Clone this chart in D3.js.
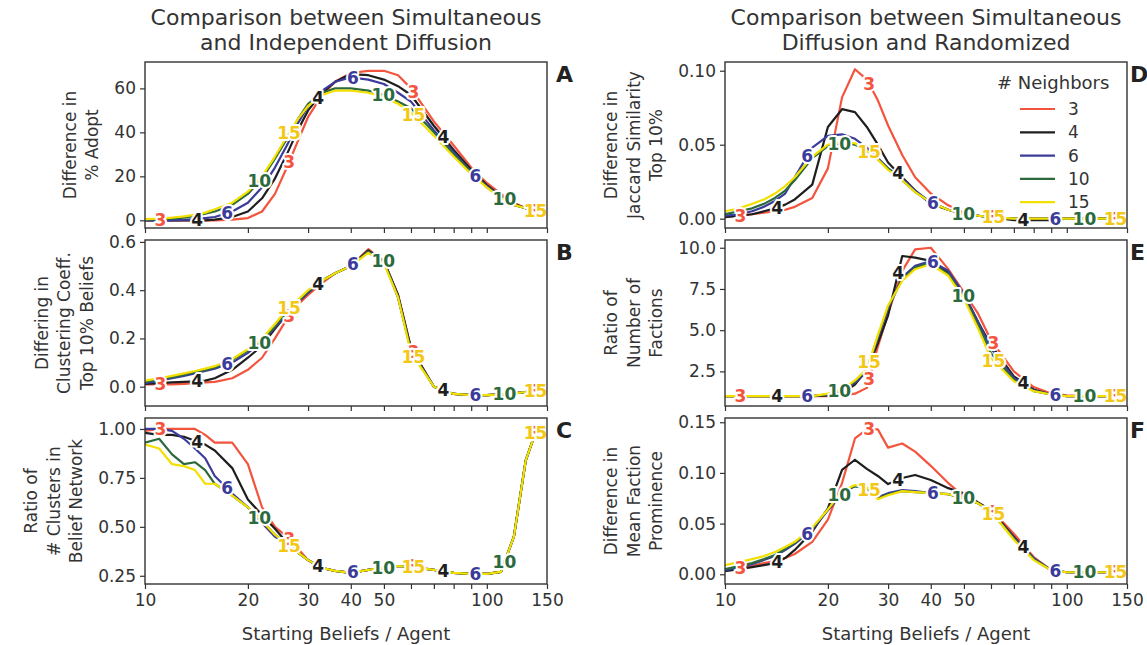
<!DOCTYPE html>
<html>
<head>
<meta charset="utf-8">
<script src="https://cdn.jsdelivr.net/npm/d3@7"></script>
<style>
  body { margin: 0; background: #fff; }
  svg { font-family: "DejaVu Sans", sans-serif; }
  .axis line { stroke: #333; stroke-width: 1.2; }
  .axis text { fill: #333; font-size: 17px; font-family: "DejaVu Sans", sans-serif; }
  .series { fill: none; stroke-width: 2.2; stroke-linejoin: round; }
  .tag { font-weight: bold; font-size: 17px; stroke: #fff; stroke-width: 4; paint-order: stroke; stroke-linejoin: round; }
</style>
</head>
<body>
<div id="chart"></div>
<script>
const beliefs = [10, 11, 12, 13, 14, 15, 16, 18, 20, 22, 24, 26, 28, 30, 33, 36, 40, 45, 50, 55, 60, 70, 80, 90, 100, 110, 120, 130, 140, 150]
const neighbors = [3, 4, 6, 10, 15]
const xTicks = [10, 20, 30, 40, 50, 60, 70, 80, 90, 100, 150]
const xTickLabels = [10, 20, 30, 40, 50, 100, 150]
// where the inline "# neighbors" tags sit, per series
const tagSpots = [[11.1, 26.4, 61, 138.8], [14.2, 32.1, 74.6], [17.4, 40.6, 92.6], [21.6, 49.8, 112.6], [26.4, 61, 138.8]]

// A
const adoptDiff = [
  [0, 0, 0, 0, 0, 0, 0, 0.3, 1, 4, 12, 24, 36, 47, 57, 63, 67, 68, 68, 66, 60, 45, 34, 24, 17, 12, 8, 5.5, 4, 3],
  [0, 0, 0, 0, 0, 0, 0.3, 1.5, 4, 10, 19, 30, 41, 50, 58, 63, 66.5, 66, 64, 61, 57, 43, 32, 23, 16, 11, 7.5, 5.5, 4, 3],
  [0, 0, 0, 0.2, 0.5, 1, 1.5, 4, 8, 15, 24, 34, 44, 52, 59, 63, 65, 64, 62, 58, 54, 41, 31, 22, 15.5, 10.5, 7, 5.5, 4, 3],
  [0.3, 0.5, 0.8, 1.2, 2, 3, 4, 7, 12, 19, 28, 37, 46, 53, 58, 60, 60, 59, 57, 54, 51, 40, 30, 22, 15, 10.5, 7, 5.5, 4, 3],
  [0.5, 0.8, 1.2, 1.8, 2.5, 3.5, 5, 8, 13, 20, 29, 38, 46, 52, 57, 59, 59, 58, 56, 53, 49, 38.5, 29, 21, 15, 10, 7, 5.5, 4, 3]
]
// B
const clusterCoeff = [
  [0.01, 0.01, 0.01, 0.012, 0.015, 0.018, 0.02, 0.035, 0.07, 0.12, 0.2, 0.28, 0.34, 0.38, 0.43, 0.47, 0.5, 0.57, 0.52, 0.38, 0.16, 0, -0.03, -0.035, -0.035, -0.032, -0.028, -0.022, -0.015, -0.01],
  [0.012, 0.015, 0.018, 0.02, 0.022, 0.025, 0.035, 0.07, 0.12, 0.17, 0.24, 0.3, 0.35, 0.39, 0.44, 0.47, 0.5, 0.565, 0.52, 0.38, 0.16, 0, -0.03, -0.035, -0.035, -0.032, -0.028, -0.022, -0.015, -0.01],
  [0.015, 0.025, 0.035, 0.045, 0.055, 0.065, 0.075, 0.1, 0.14, 0.185, 0.245, 0.3, 0.35, 0.39, 0.44, 0.47, 0.5, 0.56, 0.52, 0.37, 0.15, 0, -0.03, -0.035, -0.035, -0.032, -0.028, -0.022, -0.015, -0.01],
  [0.02, 0.03, 0.04, 0.05, 0.06, 0.07, 0.08, 0.11, 0.15, 0.19, 0.25, 0.31, 0.355, 0.395, 0.44, 0.47, 0.5, 0.56, 0.52, 0.37, 0.15, 0, -0.03, -0.035, -0.035, -0.032, -0.028, -0.022, -0.015, -0.01],
  [0.025, 0.035, 0.045, 0.055, 0.065, 0.075, 0.085, 0.115, 0.155, 0.2, 0.26, 0.32, 0.36, 0.4, 0.44, 0.47, 0.5, 0.555, 0.51, 0.37, 0.14, 0, -0.03, -0.035, -0.035, -0.032, -0.028, -0.022, -0.015, -0.01]
]
// C
const clusterRatio = [
  [0.99, 1.0, 1.0, 1.0, 1.0, 0.97, 0.93, 0.93, 0.82, 0.6, 0.5, 0.45, 0.39, 0.33, 0.29, 0.275, 0.265, 0.28, 0.29, 0.3, 0.3, 0.28, 0.265, 0.26, 0.26, 0.27, 0.45, 0.84, 1.0, 1.0],
  [0.98, 0.97, 0.97, 0.96, 0.94, 0.92, 0.89, 0.8, 0.64, 0.56, 0.49, 0.42, 0.37, 0.33, 0.29, 0.275, 0.265, 0.28, 0.29, 0.3, 0.295, 0.28, 0.265, 0.26, 0.26, 0.27, 0.45, 0.84, 1.0, 1.0],
  [1.0, 1.0, 0.99, 0.95, 0.9, 0.85, 0.76, 0.67, 0.6, 0.52, 0.45, 0.41, 0.37, 0.33, 0.29, 0.275, 0.265, 0.28, 0.29, 0.3, 0.295, 0.28, 0.265, 0.26, 0.26, 0.27, 0.45, 0.84, 1.0, 1.0],
  [0.93, 0.95, 0.87, 0.82, 0.83, 0.79, 0.72, 0.66, 0.6, 0.53, 0.46, 0.41, 0.37, 0.33, 0.29, 0.275, 0.265, 0.28, 0.29, 0.3, 0.295, 0.28, 0.265, 0.26, 0.26, 0.27, 0.45, 0.84, 1.0, 1.0],
  [0.92, 0.9, 0.82, 0.81, 0.79, 0.72, 0.72, 0.66, 0.6, 0.53, 0.46, 0.41, 0.37, 0.33, 0.29, 0.275, 0.265, 0.28, 0.29, 0.3, 0.295, 0.28, 0.265, 0.26, 0.26, 0.27, 0.45, 0.84, 1.0, 1.0]
]
// D
const jaccard = [
  [0.001, 0.002, 0.003, 0.004, 0.005, 0.006, 0.008, 0.014, 0.034, 0.082, 0.101, 0.094, 0.08, 0.063, 0.043, 0.028, 0.017, 0.009, 0.004, 0.002, 0.001, 0, 0, 0, 0, 0, 0, 0, 0, 0],
  [0.001, 0.002, 0.003, 0.005, 0.007, 0.0095, 0.013, 0.023, 0.062, 0.074, 0.072, 0.062, 0.05, 0.038, 0.028, 0.019, 0.01, 0.006, 0.003, 0.002, 0.001, -0.001, -0.001, -0.001, 0, 0, 0, 0, 0, 0],
  [0.002, 0.003, 0.005, 0.008, 0.012, 0.017, 0.028, 0.048, 0.056, 0.057, 0.054, 0.048, 0.041, 0.034, 0.027, 0.019, 0.011, 0.006, 0.003, 0.002, 0.001, 0, 0, 0, 0, 0, 0, 0, 0, 0],
  [0.003, 0.005, 0.007, 0.01, 0.014, 0.019, 0.026, 0.041, 0.049, 0.051, 0.05, 0.046, 0.04, 0.034, 0.026, 0.018, 0.011, 0.006, 0.003, 0.002, 0.001, 0, 0, 0, 0, 0, 0, 0, 0, 0],
  [0.005, 0.007, 0.01, 0.013, 0.017, 0.022, 0.028, 0.042, 0.05, 0.052, 0.051, 0.046, 0.04, 0.033, 0.026, 0.018, 0.011, 0.006, 0.003, 0.002, 0.001, 0, 0, 0, 0, 0, 0, 0, 0, 0]
]
// E
const factions = [
  [1, 1, 1, 1, 1, 1, 1, 1, 1, 1.05, 1.15, 1.5, 4.0, 6.0, 8.6, 9.9, 10.0, 8.7, 7.3, 6.0, 4.4, 2.5, 1.55, 1.15, 1.05, 1, 1, 1, 1, 1],
  [1, 1, 1, 1, 1, 1, 1, 1, 1.05, 1.15, 1.7, 2.6, 4.2, 5.9, 9.5, 9.4, 9.2, 8.5, 7.2, 5.5, 4.1, 2.2, 1.4, 1.1, 1.0, 1, 1, 1, 1, 1],
  [1, 1, 1, 1, 1, 1, 1, 1, 1.1, 1.3, 1.8, 2.5, 4.5, 6.3, 8.2, 8.9, 9.2, 8.6, 7.2, 5.5, 3.9, 2.1, 1.35, 1.1, 1.0, 1, 1, 1, 1, 1],
  [1, 1, 1, 1, 1, 1, 1, 1, 1.1, 1.35, 1.9, 2.6, 4.6, 6.4, 8.1, 8.8, 9.1, 8.4, 7.0, 5.3, 3.6, 2.0, 1.3, 1.1, 1.0, 1, 1, 1, 1, 1],
  [1, 1, 1, 1, 1, 1, 1, 1, 1.15, 1.4, 1.95, 2.65, 4.7, 6.5, 8.0, 8.7, 9.0, 8.3, 6.9, 5.1, 3.3, 1.9, 1.3, 1.1, 1.0, 1, 1, 1, 1, 1]
]
// F
const prominence = [
  [0.004, 0.006, 0.008, 0.011, 0.013, 0.016, 0.02, 0.032, 0.054, 0.09, 0.134, 0.143, 0.143, 0.125, 0.129, 0.121, 0.107, 0.09, 0.077, 0.07, 0.064, 0.04, 0.017, 0.004, 0.002, 0.002, 0.002, 0.002, 0.002, 0.002],
  [0.003, 0.005, 0.007, 0.009, 0.011, 0.016, 0.024, 0.042, 0.065, 0.103, 0.113, 0.104, 0.097, 0.089, 0.095, 0.098, 0.093, 0.085, 0.08, 0.071, 0.063, 0.037, 0.015, 0.004, 0.002, 0.002, 0.002, 0.002, 0.002, 0.002],
  [0.004, 0.007, 0.01, 0.014, 0.018, 0.024, 0.03, 0.044, 0.063, 0.08, 0.087, 0.085, 0.076, 0.08, 0.083, 0.082, 0.08, 0.079, 0.075, 0.07, 0.062, 0.036, 0.016, 0.004, 0.002, 0.002, 0.002, 0.002, 0.002, 0.002],
  [0.005, 0.008, 0.011, 0.015, 0.019, 0.025, 0.031, 0.045, 0.064, 0.081, 0.087, 0.085, 0.075, 0.079, 0.082, 0.081, 0.08, 0.079, 0.075, 0.07, 0.062, 0.035, 0.015, 0.004, 0.002, 0.002, 0.002, 0.002, 0.002, 0.002],
  [0.009, 0.012, 0.015, 0.018, 0.022, 0.027, 0.032, 0.046, 0.064, 0.082, 0.088, 0.086, 0.074, 0.078, 0.082, 0.081, 0.08, 0.079, 0.075, 0.07, 0.062, 0.034, 0.014, 0.004, 0.002, 0.002, 0.002, 0.002, 0.002, 0.002]
]

const adoptTicks = [0, 20, 40, 60]
const coeffTicks = [0, 0.2, 0.4, 0.6]
const ratioTicks = [0.25, 0.5, 0.75, 1.0]
const jaccardTicks = [0, 0.05, 0.1]
const factionTicks = [2.5, 5, 7.5, 10]
const prominenceTicks = [0, 0.05, 0.1, 0.15]

const colors = ['#f4533d', '#1e1e1e', '#3b3b9c', '#2c6a3d', '#f3e000']
const tagColors = ['#f4533d', '#1e1e1e', '#3b3b9c', '#2c6a3d', '#f2c814']

let width = 1147, height = 645
let cols = [[145, 547], [725, 1127]]
let rows = [[62, 228], [240, 406], [418, 584]]
let letterGap = [9, 3]

let panels = [
  { letter: 'A', data: adoptDiff, domain: [-3.5, 72], ticks: adoptTicks, fmt: 'd', col: 0, row: 0, label: ['Difference in', '% Adopt'] },
  { letter: 'B', data: clusterCoeff, domain: [-0.08, 0.608], ticks: coeffTicks, fmt: '.1f', col: 0, row: 1, label: ['Differing in', 'Clustering Coeff.', 'Top 10% Beliefs'] },
  { letter: 'C', data: clusterRatio, domain: [0.208, 1.056], ticks: ratioTicks, fmt: '.2f', col: 0, row: 2, label: ['Ratio of', '# Clusters in', 'Belief Network'] },
  { letter: 'D', data: jaccard, domain: [-0.0063, 0.1059], ticks: jaccardTicks, fmt: '.2f', col: 1, row: 0, label: ['Difference in', 'Jaccard Similarity', 'Top 10%'], legend: true },
  { letter: 'E', data: factions, domain: [0.4, 10.47], ticks: factionTicks, fmt: '.1f', col: 1, row: 1, label: ['Ratio of', 'Number of', 'Factions'] },
  { letter: 'F', data: prominence, domain: [-0.0096, 0.1542], ticks: prominenceTicks, fmt: '.2f', col: 1, row: 2, label: ['Difference in', 'Mean Faction', 'Prominence'] }
]

let titles = [
  ['Comparison between Simultaneous', 'and Independent Diffusion'],
  ['Comparison between Simultaneous', 'Diffusion and Randomized']
]

// value of a series at v, linear in log-x like the plotted segments
function valueAt(series, v) {
  let i = d3.bisectRight(beliefs, v) - 1
  i = Math.max(0, Math.min(i, beliefs.length - 2))
  let t = Math.log(v / beliefs[i]) / Math.log(beliefs[i + 1] / beliefs[i])
  return series[i] + t * (series[i + 1] - series[i])
}

let svg = d3.select('#chart').append('svg')
  .attr('width', width)
  .attr('height', height)

titles.forEach((t, c) => {
  svg.append('text')
    .attr('x', (cols[c][0] + cols[c][1]) / 2)
    .attr('y', 25)
    .attr('text-anchor', 'middle')
    .style('font-size', '22px')
    .style('fill', '#333')
    .selectAll('tspan')
    .data(t)
    .enter().append('tspan')
      .attr('x', (cols[c][0] + cols[c][1]) / 2)
      .attr('dy', (d, i) => i ? 25 : 0)
      .text(d => d)
})

panels.forEach((p, pi) => {
  let [x0, x1] = cols[p.col]
  let [y0, y1] = rows[p.row]
  let x = d3.scaleLog().domain([10, 150]).range([x0, x1])
  let y = d3.scaleLinear().domain(p.domain).range([y1, y0])
  let g = svg.append('g')

  g.append('clipPath').attr('id', `clip${pi}`)
    .append('rect').attr('x', x0).attr('y', y0).attr('width', x1 - x0).attr('height', y1 - y0)

  let line = d3.line()
    .x((d, i) => x(beliefs[i]))
    .y(d => y(d))

  g.append('g').attr('clip-path', `url(#clip${pi})`)
    .selectAll('path')
    .data(p.data)
    .enter().append('path')
      .attr('class', 'series')
      .attr('stroke', (d, i) => colors[i])
      .attr('d', line)

  let tags = []
  tagSpots.forEach((xs, i) => xs.forEach(v => tags.push({ i, v, val: valueAt(p.data[i], v) })))
  g.selectAll('text.tag')
    .data(tags)
    .enter().append('text')
      .attr('class', 'tag')
      .attr('x', d => x(d.v))
      .attr('y', d => y(d.val))
      .attr('text-anchor', 'middle')
      .attr('dominant-baseline', 'central')
      .style('fill', d => tagColors[d.i])
      .text(d => neighbors[d.i])

  g.append('rect')
    .attr('x', x0).attr('y', y0)
    .attr('width', x1 - x0).attr('height', y1 - y0)
    .style('fill', 'none').style('stroke', '#333').style('stroke-width', 1.4)

  let xa = g.append('g')
    .attr('class', 'axis')
    .attr('transform', `translate(0,${y1})`)
    .call(d3.axisBottom(x).tickValues(xTicks).tickSize(5).tickPadding(5)
      .tickFormat(d => p.row == 2 && xTickLabels.includes(d) ? d : ''))
  xa.select('.domain').remove()

  let ya = g.append('g')
    .attr('class', 'axis')
    .attr('transform', `translate(${x0},0)`)
    .call(d3.axisLeft(y).tickValues(p.ticks).tickSize(5).tickPadding(4).tickFormat(d3.format(p.fmt)))
  ya.select('.domain').remove()

  let bb = ya.node().getBBox()
  let lh = 22.5
  let lastX = x0 + bb.x - 16
  let firstX = lastX - (p.label.length - 1) * lh
  g.append('text')
    .attr('transform', `translate(${firstX},${(y0 + y1) / 2}) rotate(-90)`)
    .attr('text-anchor', 'middle')
    .style('font-size', '17px')
    .style('fill', '#333')
    .selectAll('tspan')
    .data(p.label)
    .enter().append('tspan')
      .attr('x', 0)
      .attr('dy', (d, i) => i ? lh : 0)
      .text(d => d)

  g.append('text')
    .attr('x', x1 + letterGap[p.col])
    .attr('y', y0 + 20)
    .style('font-size', '22px')
    .style('font-weight', 'bold')
    .style('fill', '#222')
    .text(p.letter)

  if (p.row == 2) {
    g.append('text')
      .attr('x', (x0 + x1) / 2)
      .attr('y', 640)
      .attr('text-anchor', 'middle')
      .style('font-size', '18px')
      .style('fill', '#333')
      .text('Starting Beliefs / Agent')
  }

  if (p.legend) {
    let lg = g.append('g').attr('transform', `translate(${x1 - 130},${y0})`)
    lg.append('text')
      .attr('x', 0).attr('y', 27)
      .style('font-size', '18px').style('fill', '#333')
      .text('# Neighbors')
    let rowsG = lg.selectAll('g.entry')
      .data(neighbors)
      .enter().append('g')
        .attr('transform', (d, i) => `translate(0,${47 + i * 23.3})`)
    rowsG.append('line')
      .attr('x1', 23).attr('x2', 58)
      .style('stroke', (d, i) => colors[i]).style('stroke-width', 2.2)
    rowsG.append('text')
      .attr('x', 71)
      .attr('dominant-baseline', 'central')
      .style('font-size', '17px').style('fill', '#333')
      .text(d => d)
  }
})
</script>
</body>
</html>
